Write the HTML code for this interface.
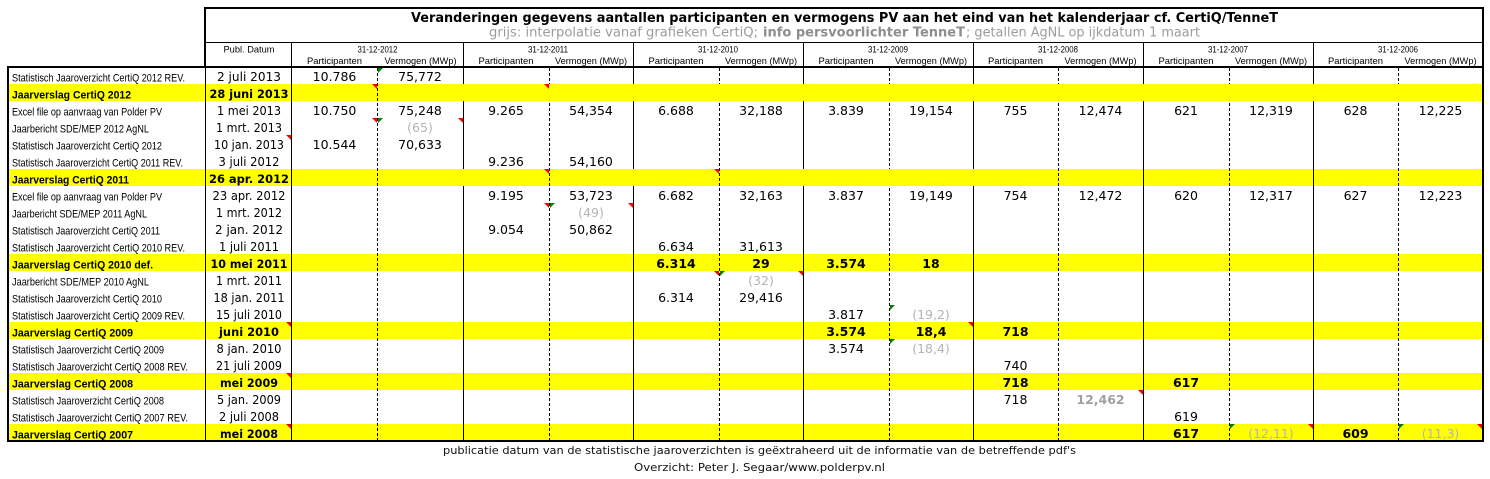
<!DOCTYPE html>
<html><head><meta charset="utf-8">
<style>
html,body{margin:0;padding:0;background:#fff;}
svg{display:block}
.l{font-family:"Liberation Sans",Arial,sans-serif;font-size:11px;fill:#000}
.lb{font-family:"Liberation Sans",Arial,sans-serif;font-size:10.8px;font-weight:bold;fill:#000}
.h{font-family:"Liberation Sans",Arial,sans-serif;font-size:9.5px;fill:#000;text-anchor:middle}
.n{font-family:"DejaVu Sans",Verdana,sans-serif;font-size:12.5px;fill:#000;text-anchor:middle}
.d{font-family:"DejaVu Sans",Verdana,sans-serif;font-size:12px;fill:#000;text-anchor:middle}
.nb{font-family:"DejaVu Sans",Verdana,sans-serif;font-size:12.5px;font-weight:bold;fill:#000;text-anchor:middle}
.db{font-family:"DejaVu Sans",Verdana,sans-serif;font-size:11.5px;font-weight:bold;fill:#000;text-anchor:middle}
.g{fill:#b4b4b4}
.gb{fill:#a0a0a0}
.t{font-family:"DejaVu Sans",Verdana,sans-serif;font-size:13px;font-weight:bold;fill:#000;text-anchor:middle}
.s{font-family:"DejaVu Sans",Verdana,sans-serif;font-size:13px;fill:#9c9c9c}
.sb{font-family:"DejaVu Sans",Verdana,sans-serif;font-size:13px;font-weight:bold;fill:#8e8e8e}
.f{font-family:"DejaVu Sans",Verdana,sans-serif;font-size:11px;fill:#111;text-anchor:middle}
.dl{stroke:#000;stroke-width:1;stroke-dasharray:3,2}
</style></head>
<body>
<svg width="1490" height="479" viewBox="0 0 1490 479" xmlns="http://www.w3.org/2000/svg">
<rect x="0" y="0" width="1490" height="479" fill="#fff"/>

<g fill="#ffff00">
<rect x="9" y="84" width="1473" height="17"/>
<rect x="9" y="169" width="1473" height="17"/>
<rect x="9" y="254" width="1473" height="17"/>
<rect x="9" y="322" width="1473" height="17"/>
<rect x="9" y="373" width="1473" height="17"/>
<rect x="9" y="424" width="1473" height="17"/>
</g>

<g class="dl">
<line x1="377.5" y1="68" x2="377.5" y2="440"/>
<line x1="549.5" y1="68" x2="549.5" y2="440"/>
<line x1="719.5" y1="68" x2="719.5" y2="440"/>
<line x1="889.5" y1="68" x2="889.5" y2="440"/>
<line x1="1058.5" y1="68" x2="1058.5" y2="440"/>
<line x1="1229.5" y1="68" x2="1229.5" y2="440"/>
<line x1="1398.5" y1="68" x2="1398.5" y2="440"/>
</g>

<g fill="#000">
<rect x="204" y="7" width="1280" height="2"/>
<rect x="204" y="7" width="2" height="60"/>
<rect x="1482" y="7" width="2" height="435"/>
<rect x="206" y="42" width="1276" height="1"/>
<rect x="7" y="66" width="1477" height="2"/>
<rect x="7" y="440" width="1477" height="2"/>
<rect x="7" y="66" width="2" height="376"/>
<rect x="205" y="66" width="1" height="375"/>
<rect x="291" y="42" width="1" height="399"/>
<rect x="463" y="42" width="1" height="399"/>
<rect x="633" y="42" width="1" height="399"/>
<rect x="803" y="42" width="1" height="399"/>
<rect x="973" y="42" width="1" height="399"/>
<rect x="1143" y="42" width="1" height="399"/>
<rect x="1313" y="42" width="1" height="399"/>
</g>

<g fill="#ffff00">
<rect x="463" y="84" width="1" height="17"/><rect x="549" y="84" width="1" height="17"/>
<rect x="633" y="84" width="1" height="17"/><rect x="719" y="84" width="1" height="17"/>
<rect x="803" y="84" width="1" height="17"/><rect x="889" y="84" width="1" height="17"/>
<rect x="973" y="84" width="1" height="17"/><rect x="1058" y="84" width="1" height="17"/>
<rect x="1143" y="84" width="1" height="17"/><rect x="1229" y="84" width="1" height="17"/>
<rect x="1313" y="84" width="1" height="17"/><rect x="1398" y="84" width="1" height="17"/>
<rect x="463" y="169" width="1" height="17"/><rect x="633" y="169" width="1" height="17"/>
<rect x="803" y="169" width="1" height="17"/><rect x="889" y="169" width="1" height="17"/>
<rect x="973" y="169" width="1" height="17"/>
</g>

<g fill="#ff0000">
<polygon points="372,84 377,84 377,89"/>
<polygon points="372,118 377,118 377,123"/>
<polygon points="458,118 463,118 463,123"/>
<polygon points="286,135 291,135 291,140"/>
<polygon points="544,84 549,84 549,89"/>
<polygon points="544,169 549,169 549,174"/>
<polygon points="714,169 719,169 719,174"/>
<polygon points="544,203 549,203 549,208"/>
<polygon points="628,203 633,203 633,208"/>
<polygon points="714,271 719,271 719,276"/>
<polygon points="798,271 803,271 803,276"/>
<polygon points="968,322 973,322 973,327"/>
<polygon points="286,322 291,322 291,327"/>
<polygon points="286,373 291,373 291,378"/>
<polygon points="286,424 291,424 291,429"/>
<polygon points="1138,390 1143,390 1143,395"/>
<polygon points="1308,424 1313,424 1313,429"/>
<polygon points="1477,424 1482,424 1482,429"/>
</g>
<g fill="#008000">
<polygon points="378,68 383,68 378,73"/>
<polygon points="378,118 383,118 378,123"/>
<polygon points="550,203 555,203 550,208"/>
<polygon points="720,271 725,271 720,276"/>
<polygon points="890,305 895,305 890,310"/>
<polygon points="890,339 895,339 890,344"/>
<polygon points="1230,424 1235,424 1230,429"/>
<polygon points="1399,424 1404,424 1399,429"/>
</g>

<text class="t" x="844.5" y="22" textLength="867" lengthAdjust="spacingAndGlyphs">Veranderingen gegevens aantallen participanten en vermogens PV aan het eind van het kalenderjaar cf. CertiQ/TenneT</text>
<text class="s" x="489" y="36.5" textLength="269" lengthAdjust="spacingAndGlyphs">grijs: interpolatie vanaf grafieken CertiQ;</text>
<text class="sb" x="763" y="36.5" textLength="202" lengthAdjust="spacingAndGlyphs">info persvoorlichter TenneT</text>
<text class="s" x="966" y="36.5" textLength="234" lengthAdjust="spacingAndGlyphs">; getallen AgNL op ijkdatum 1 maart</text>

<text class="h" x="249" y="52.5" textLength="51" lengthAdjust="spacingAndGlyphs">Publ. Datum</text>
<text class="h" x="377.5" y="52.5" textLength="40" lengthAdjust="spacingAndGlyphs">31-12-2012</text>
<text class="h" x="548" y="52.5" textLength="40" lengthAdjust="spacingAndGlyphs">31-12-2011</text>
<text class="h" x="718" y="52.5" textLength="40" lengthAdjust="spacingAndGlyphs">31-12-2010</text>
<text class="h" x="888" y="52.5" textLength="40" lengthAdjust="spacingAndGlyphs">31-12-2009</text>
<text class="h" x="1058" y="52.5" textLength="40" lengthAdjust="spacingAndGlyphs">31-12-2008</text>
<text class="h" x="1228" y="52.5" textLength="40" lengthAdjust="spacingAndGlyphs">31-12-2007</text>
<text class="h" x="1398" y="52.5" textLength="40" lengthAdjust="spacingAndGlyphs">31-12-2006</text>

<text class="h" x="334.5" y="64" textLength="55" lengthAdjust="spacingAndGlyphs">Participanten</text>
<text class="h" x="420.5" y="64" textLength="72" lengthAdjust="spacingAndGlyphs">Vermogen (MWp)</text>
<text class="h" x="506" y="64" textLength="55" lengthAdjust="spacingAndGlyphs">Participanten</text>
<text class="h" x="591" y="64" textLength="72" lengthAdjust="spacingAndGlyphs">Vermogen (MWp)</text>
<text class="h" x="676" y="64" textLength="55" lengthAdjust="spacingAndGlyphs">Participanten</text>
<text class="h" x="761" y="64" textLength="72" lengthAdjust="spacingAndGlyphs">Vermogen (MWp)</text>
<text class="h" x="846" y="64" textLength="55" lengthAdjust="spacingAndGlyphs">Participanten</text>
<text class="h" x="931" y="64" textLength="72" lengthAdjust="spacingAndGlyphs">Vermogen (MWp)</text>
<text class="h" x="1015.5" y="64" textLength="55" lengthAdjust="spacingAndGlyphs">Participanten</text>
<text class="h" x="1100.5" y="64" textLength="72" lengthAdjust="spacingAndGlyphs">Vermogen (MWp)</text>
<text class="h" x="1186" y="64" textLength="55" lengthAdjust="spacingAndGlyphs">Participanten</text>
<text class="h" x="1271" y="64" textLength="72" lengthAdjust="spacingAndGlyphs">Vermogen (MWp)</text>
<text class="h" x="1355.5" y="64" textLength="55" lengthAdjust="spacingAndGlyphs">Participanten</text>
<text class="h" x="1440.5" y="64" textLength="72" lengthAdjust="spacingAndGlyphs">Vermogen (MWp)</text>

<text class="l" x="12" y="81.5" textLength="173" lengthAdjust="spacingAndGlyphs">Statistisch Jaaroverzicht CertiQ 2012 REV.</text>
<text class="lb" x="12" y="98.5" textLength="119" lengthAdjust="spacingAndGlyphs">Jaarverslag CertiQ 2012</text>
<text class="l" x="12" y="115.5" textLength="150" lengthAdjust="spacingAndGlyphs">Excel file op aanvraag van Polder PV</text>
<text class="l" x="12" y="132.5" textLength="137" lengthAdjust="spacingAndGlyphs">Jaarbericht SDE/MEP 2012 AgNL</text>
<text class="l" x="12" y="149.5" textLength="150" lengthAdjust="spacingAndGlyphs">Statistisch Jaaroverzicht CertiQ 2012</text>
<text class="l" x="12" y="166.5" textLength="171" lengthAdjust="spacingAndGlyphs">Statistisch Jaaroverzicht CertiQ 2011 REV.</text>
<text class="lb" x="12" y="183.5" textLength="117" lengthAdjust="spacingAndGlyphs">Jaarverslag CertiQ 2011</text>
<text class="l" x="12" y="200.5" textLength="150" lengthAdjust="spacingAndGlyphs">Excel file op aanvraag van Polder PV</text>
<text class="l" x="12" y="217.5" textLength="135" lengthAdjust="spacingAndGlyphs">Jaarbericht SDE/MEP 2011 AgNL</text>
<text class="l" x="12" y="234.5" textLength="148" lengthAdjust="spacingAndGlyphs">Statistisch Jaaroverzicht CertiQ 2011</text>
<text class="l" x="12" y="251.5" textLength="173" lengthAdjust="spacingAndGlyphs">Statistisch Jaaroverzicht CertiQ 2010 REV.</text>
<text class="lb" x="12" y="268.5" textLength="141" lengthAdjust="spacingAndGlyphs">Jaarverslag CertiQ 2010 def.</text>
<text class="l" x="12" y="285.5" textLength="137" lengthAdjust="spacingAndGlyphs">Jaarbericht SDE/MEP 2010 AgNL</text>
<text class="l" x="12" y="302.5" textLength="150" lengthAdjust="spacingAndGlyphs">Statistisch Jaaroverzicht CertiQ 2010</text>
<text class="l" x="12" y="319.5" textLength="173" lengthAdjust="spacingAndGlyphs">Statistisch Jaaroverzicht CertiQ 2009 REV.</text>
<text class="lb" x="12" y="336.5" textLength="121" lengthAdjust="spacingAndGlyphs">Jaarverslag CertiQ 2009</text>
<text class="l" x="12" y="353.5" textLength="152" lengthAdjust="spacingAndGlyphs">Statistisch Jaaroverzicht CertiQ 2009</text>
<text class="l" x="12" y="370.5" textLength="176" lengthAdjust="spacingAndGlyphs">Statistisch Jaaroverzicht CertiQ 2008 REV.</text>
<text class="lb" x="12" y="387.5" textLength="121" lengthAdjust="spacingAndGlyphs">Jaarverslag CertiQ 2008</text>
<text class="l" x="12" y="404.5" textLength="152" lengthAdjust="spacingAndGlyphs">Statistisch Jaaroverzicht CertiQ 2008</text>
<text class="l" x="12" y="421.5" textLength="176" lengthAdjust="spacingAndGlyphs">Statistisch Jaaroverzicht CertiQ 2007 REV.</text>
<text class="lb" x="12" y="438.5" textLength="121" lengthAdjust="spacingAndGlyphs">Jaarverslag CertiQ 2007</text>

<text class="d" x="249" y="81" textLength="64" lengthAdjust="spacingAndGlyphs">2 juli 2013</text>
<text class="db" x="249" y="98" textLength="79" lengthAdjust="spacingAndGlyphs">28 juni 2013</text>
<text class="d" x="249" y="115" textLength="64" lengthAdjust="spacingAndGlyphs">1 mei 2013</text>
<text class="d" x="249" y="132" textLength="66" lengthAdjust="spacingAndGlyphs">1 mrt. 2013</text>
<text class="d" x="249" y="149" textLength="70" lengthAdjust="spacingAndGlyphs">10 jan. 2013</text>
<text class="d" x="249" y="166" textLength="61" lengthAdjust="spacingAndGlyphs">3 juli 2012</text>
<text class="db" x="249" y="183" textLength="80" lengthAdjust="spacingAndGlyphs">26 apr. 2012</text>
<text class="d" x="249" y="200" textLength="73" lengthAdjust="spacingAndGlyphs">23 apr. 2012</text>
<text class="d" x="249" y="217" textLength="66" lengthAdjust="spacingAndGlyphs">1 mrt. 2012</text>
<text class="d" x="249" y="234" textLength="68" lengthAdjust="spacingAndGlyphs">2 jan. 2012</text>
<text class="d" x="249" y="251" textLength="60" lengthAdjust="spacingAndGlyphs">1 juli 2011</text>
<text class="db" x="249" y="268" textLength="77" lengthAdjust="spacingAndGlyphs">10 mei 2011</text>
<text class="d" x="249" y="285" textLength="66" lengthAdjust="spacingAndGlyphs">1 mrt. 2011</text>
<text class="d" x="249" y="302" textLength="71" lengthAdjust="spacingAndGlyphs">18 jan. 2011</text>
<text class="d" x="249" y="319" textLength="66" lengthAdjust="spacingAndGlyphs">15 juli 2010</text>
<text class="db" x="249" y="336" textLength="60" lengthAdjust="spacingAndGlyphs">juni 2010</text>
<text class="d" x="249" y="353" textLength="65" lengthAdjust="spacingAndGlyphs">8 jan. 2010</text>
<text class="d" x="249" y="370" textLength="66" lengthAdjust="spacingAndGlyphs">21 juli 2009</text>
<text class="db" x="249" y="387" textLength="58" lengthAdjust="spacingAndGlyphs">mei 2009</text>
<text class="d" x="249" y="404" textLength="64" lengthAdjust="spacingAndGlyphs">5 jan. 2009</text>
<text class="d" x="249" y="421" textLength="60" lengthAdjust="spacingAndGlyphs">2 juli 2008</text>
<text class="db" x="249" y="438" textLength="58" lengthAdjust="spacingAndGlyphs">mei 2008</text>

<text class="n" x="334.5" y="81">10.786</text>
<text class="n" x="420" y="81">75,772</text>

<text class="n" x="334.5" y="115">10.750</text>
<text class="n" x="420" y="115">75,248</text>
<text class="n" x="506" y="115">9.265</text>
<text class="n" x="591" y="115">54,354</text>
<text class="n" x="676" y="115">6.688</text>
<text class="n" x="761" y="115">32,188</text>
<text class="n" x="846" y="115">3.839</text>
<text class="n" x="931" y="115">19,154</text>
<text class="n" x="1015.5" y="115">755</text>
<text class="n" x="1100.5" y="115">12,474</text>
<text class="n" x="1186" y="115">621</text>
<text class="n" x="1271" y="115">12,319</text>
<text class="n" x="1355.5" y="115">628</text>
<text class="n" x="1440.5" y="115">12,225</text>

<text class="n g" x="420" y="132">(65)</text>

<text class="n" x="334.5" y="149">10.544</text>
<text class="n" x="420" y="149">70,633</text>

<text class="n" x="506" y="166">9.236</text>
<text class="n" x="591" y="166">54,160</text>

<text class="n" x="506" y="200">9.195</text>
<text class="n" x="591" y="200">53,723</text>
<text class="n" x="676" y="200">6.682</text>
<text class="n" x="761" y="200">32,163</text>
<text class="n" x="846" y="200">3.837</text>
<text class="n" x="931" y="200">19,149</text>
<text class="n" x="1015.5" y="200">754</text>
<text class="n" x="1100.5" y="200">12,472</text>
<text class="n" x="1186" y="200">620</text>
<text class="n" x="1271" y="200">12,317</text>
<text class="n" x="1355.5" y="200">627</text>
<text class="n" x="1440.5" y="200">12,223</text>

<text class="n g" x="591" y="217">(49)</text>

<text class="n" x="506" y="234">9.054</text>
<text class="n" x="591" y="234">50,862</text>

<text class="n" x="676" y="251">6.634</text>
<text class="n" x="761" y="251">31,613</text>

<text class="nb" x="676" y="268">6.314</text>
<text class="nb" x="761" y="268">29</text>
<text class="nb" x="846" y="268">3.574</text>
<text class="nb" x="931" y="268">18</text>

<text class="n g" x="761" y="285">(32)</text>

<text class="n" x="676" y="302">6.314</text>
<text class="n" x="761" y="302">29,416</text>

<text class="n" x="846" y="319">3.817</text>
<text class="n g" x="931" y="319">(19,2)</text>

<text class="nb" x="846" y="336">3.574</text>
<text class="nb" x="931" y="336">18,4</text>
<text class="nb" x="1015.5" y="336">718</text>

<text class="n" x="846" y="353">3.574</text>
<text class="n g" x="931" y="353">(18,4)</text>

<text class="n" x="1015.5" y="370">740</text>

<text class="nb" x="1015.5" y="387">718</text>
<text class="nb" x="1186" y="387">617</text>

<text class="n" x="1015.5" y="404">718</text>
<text class="nb gb" x="1100.5" y="404">12,462</text>

<text class="n" x="1186" y="421">619</text>

<text class="nb" x="1186" y="438">617</text>
<text class="n g" x="1271" y="438">(12,11)</text>
<text class="nb" x="1355.5" y="438">609</text>
<text class="n g" x="1440.5" y="438">(11,3)</text>

<text class="f" x="759.5" y="454" textLength="633" lengthAdjust="spacingAndGlyphs">publicatie datum van de statistische jaaroverzichten is geëxtraheerd uit de informatie van de betreffende pdf's</text>
<text class="f" x="759.5" y="471" textLength="251" lengthAdjust="spacingAndGlyphs">Overzicht: Peter J. Segaar/www.polderpv.nl</text>
</svg>
</body></html>
